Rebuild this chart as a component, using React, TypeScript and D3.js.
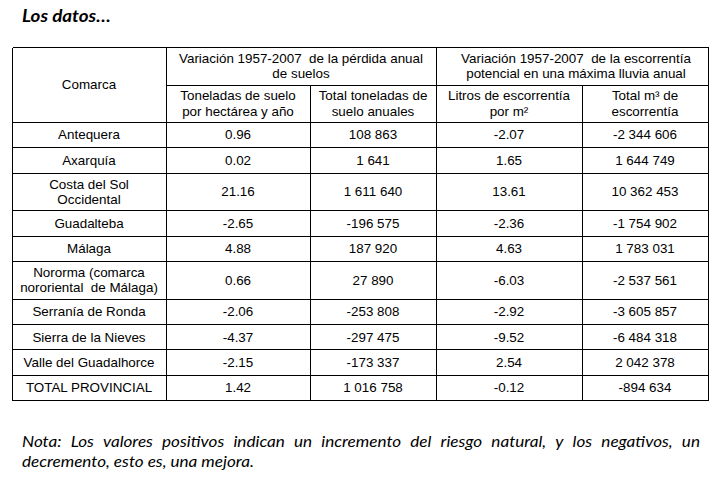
import React, { useEffect, useRef } from "react";
import * as d3 from "d3";

// ---- data ----
const comarcas: string[][] = [
  ["Antequera"],
  ["Axarquía"],
  ["Costa del Sol", "Occidental"],
  ["Guadalteba"],
  ["Málaga"],
  ["Nororma (comarca", "nororiental  de Málaga)"],
  ["Serranía de Ronda"],
  ["Sierra de la Nieves"],
  ["Valle del Guadalhorce"],
  ["TOTAL PROVINCIAL"],
];
const toneladasHa = [0.96, 0.02, 21.16, -2.65, 4.88, 0.66, -2.06, -4.37, -2.15, 1.42];
const toneladasTotal = [108863, 1641, 1611640, -196575, 187920, 27890, -253808, -297475, -173337, 1016758];
const litrosM2 = [-2.07, 1.65, 13.61, -2.36, 4.63, -6.03, -2.92, -9.52, 2.54, -0.12];
const m3Total = [-2344606, 1644749, 10362453, -1754902, 1783031, -2537561, -3605857, -6484318, 2042378, -894634];

const firstHeader = "Comarca";
const groupHeaders: string[][] = [
  ["Variación 1957-2007  de la pérdida anual", "de suelos"],
  ["Variación 1957-2007  de la escorrentía", "potencial en una máxima lluvia anual"],
];
const subHeaders: string[][] = [
  ["Toneladas de suelo", "por hectárea y año"],
  ["Total toneladas de", "suelo anuales"],
  ["Litros de escorrentía", "por m²"],
  ["Total m³ de", "escorrentía"],
];
const title = "Los datos…";
const noteLines = [
  "Nota: Los valores positivos indican un incremento del riesgo natural, y los negativos, un",
  "decremento, esto es, una mejora.",
];

// ---- layout ----
const W = 723;
const H = 486;
const colWidths = [154, 144, 126, 146, 126];
const tableLeft = 12;
const tableTop = 47;
const headerRowH = 37.5;
const lineStep = 15.5;
const FS = 13.4;
const TABLE_FONT = "'Liberation Sans', Arial, sans-serif";
const NOTE_FONT = "Lato, 'Open Sans', sans-serif";

const loc = d3.formatLocale({ decimal: ".", thousands: " ", grouping: [3], currency: ["", ""], minus: "-" });
const fmtInt = loc.format(",d");
const fmtDec = loc.format(".2f");

export default function App() {
  const ref = useRef<SVGSVGElement | null>(null);

  useEffect(() => {
    const svg = d3.select(ref.current);
    svg.selectAll("*").remove();
    svg.append("rect").attr("width", W).attr("height", H).attr("fill", "#fff");

    const colEdges = [tableLeft, ...d3.cumsum(colWidths).map((v) => v + tableLeft)];
    const px = (v: number) => Math.round(v) + 0.5;

    // row heights from line counts
    const bodyH = comarcas.map((c) => 12.8 + 12.5 * c.length);
    const h1 = tableTop + headerRowH;
    const h2 = h1 + headerRowH;
    const rowEdges = [h2, ...d3.cumsum(bodyH).map((v) => v + h2)];
    const tableBottom = rowEdges[rowEdges.length - 1];

    const g = svg.append("g");

    const drawLines = (lines: string[], cx: number, top: number, bottom: number) => {
      const mid = (top + bottom) / 2;
      const n = lines.length;
      lines.forEach((t, i) => {
        g.append("text")
          .attr("x", cx)
          .attr("y", mid + (i - (n - 1) / 2) * lineStep + 0.36 * FS)
          .attr("text-anchor", "middle")
          .attr("font-family", TABLE_FONT)
          .attr("font-size", FS)
          .attr("fill", "#000")
          .style("white-space", "pre")
          .text(t);
      });
    };

    // headers
    drawLines([firstHeader], (colEdges[0] + colEdges[1]) / 2, tableTop, h2);
    drawLines(groupHeaders[0], (colEdges[1] + colEdges[3]) / 2, tableTop, h1);
    drawLines(groupHeaders[1], (colEdges[3] + colEdges[5]) / 2 + 4, tableTop, h1);
    subHeaders.forEach((s, i) => drawLines(s, (colEdges[i + 1] + colEdges[i + 2]) / 2, h1, h2));

    // body
    const cols: string[][] = [
      toneladasHa.map(fmtDec),
      toneladasTotal.map(fmtInt),
      litrosM2.map(fmtDec),
      m3Total.map(fmtInt),
    ];
    comarcas.forEach((c, r) => {
      const top = rowEdges[r];
      const bottom = rowEdges[r + 1];
      drawLines(c, (colEdges[0] + colEdges[1]) / 2, top, bottom);
      cols.forEach((col, ci) => {
        drawLines([col[r]], (colEdges[ci + 1] + colEdges[ci + 2]) / 2, top, bottom);
      });
    });

    // grid lines
    const stroke = (x1: number, y1: number, x2: number, y2: number) =>
      g.append("line")
        .attr("x1", x1).attr("y1", y1).attr("x2", x2).attr("y2", y2)
        .attr("stroke", "#000").attr("stroke-width", 1).attr("shape-rendering", "crispEdges");
    const L = px(colEdges[0]);
    const R = px(colEdges[5]);
    stroke(L, px(tableTop), R, px(tableTop));
    stroke(px(colEdges[1]), px(h1), R, px(h1));
    rowEdges.forEach((y) => stroke(L, px(y), R, px(y)));
    [0, 1, 3, 5].forEach((i) => stroke(px(colEdges[i]), px(tableTop), px(colEdges[i]), px(tableBottom)));
    [2, 4].forEach((i) => stroke(px(colEdges[i]), px(h1), px(colEdges[i]), px(tableBottom)));

    // italic text with Calibri-like width (horizontal stretch)
    const STRETCH = 1.14;
    const italicWord = (txt: string, y: number, size: number, weight: number) => {
      const t = svg.append("text")
        .attr("y", y)
        .attr("font-family", NOTE_FONT)
        .attr("font-size", size)
        .attr("font-weight", weight)
        .attr("font-style", "italic")
        .attr("fill", "#000")
        .style("white-space", "pre")
        .text(txt);
      const w = (t.node() as SVGTextElement).getComputedTextLength() * STRETCH;
      t.attr("textLength", w).attr("lengthAdjust", "spacingAndGlyphs");
      return { t, w };
    };

    // title
    const tt = italicWord(title, 21.5, 16.5, 700);
    tt.t.attr("x", 22);

    // justified note
    const noteX0 = 22;
    const noteX1 = 700;
    const noteBase = [447, 467];
    noteLines.forEach((line, li) => {
      const words = line.split(" ").map((w) => italicWord(w, noteBase[li], 15, 400));
      const total = d3.sum(words, (d) => d.w);
      const justify = li === 0;
      const gap = justify ? (noteX1 - noteX0 - total) / (words.length - 1) : 4;
      let x = noteX0;
      words.forEach((d) => {
        d.t.attr("x", x);
        x += d.w + gap;
      });
    });
  }, []);

  return (
    <svg
      ref={ref}
      width={W}
      height={H}
      viewBox={`0 0 ${W} ${H}`}
      style={{ position: "absolute", left: 0, top: 0, display: "block" }}
    />
  );
}
